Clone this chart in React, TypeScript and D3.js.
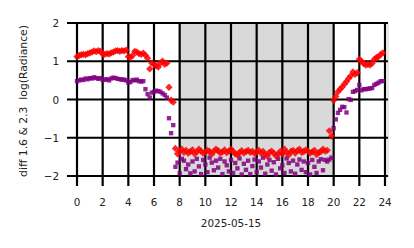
import React from "react";
import * as d3 from "d3";

const hours = [0, 2, 4, 6, 8, 10, 12, 14, 16, 18, 20, 22, 24];
const yTicks = [-2, -1, 0, 1, 2];
const yTickLabels = ["−2", "−1", "0", "1", "2"];
const nightStart = 8;
const nightEnd = 20;
const dateLabel = "2025-05-15";
const yLabel = "diff 1.6 & 2.3  log(Radiance)";

// samples every 10 minutes
const red = [
  1.12, 1.15, 1.17, 1.18, 1.17, 1.2,
  1.22, 1.24, 1.27, 1.25, 1.28, 1.26,
  1.19, 1.18, 1.2, 1.19, 1.22, 1.24,
  1.27, 1.28, 1.26, 1.28, 1.27, 1.29,
  1.12, 1.1, 1.15, 1.26, 1.24, 1.2,
  1.18, 1.21, 1.16, 1.08, 0.8, 0.95,
  0.92, 0.88, 0.85, 0.96, 1.0, 0.92,
  0.95, 0.32, -0.02, -0.07, -1.28, -1.42,
  -1.35, -1.3, -1.38, -1.33, -1.4, -1.36,
  -1.32, -1.42, -1.37, -1.3, -1.35, -1.4,
  -1.38, -1.33, -1.36, -1.43, -1.35, -1.3,
  -1.34, -1.4, -1.37, -1.32, -1.39, -1.35,
  -1.3, -1.36, -1.42, -1.45, -1.38, -1.34,
  -1.4, -1.36, -1.33, -1.38, -1.35, -1.41,
  -1.37, -1.33, -1.4, -1.36, -1.44, -1.48,
  -1.38, -1.35, -1.4, -1.47, -1.43, -1.36,
  -1.42, -1.3, -1.38, -1.45, -1.36, -1.33,
  -1.4, -1.34, -1.3, -1.38, -1.36, -1.32,
  -1.35, -1.4, -1.37, -1.33, -1.44, -1.39,
  -1.36, -1.3, -1.35, -1.33, -0.82, -0.96,
  -0.02, 0.08, 0.2, 0.27, 0.33, 0.4,
  0.47, 0.55, 0.62, 0.72, 0.66, 0.7,
  1.05, 1.0, 0.94, 0.9, 0.92, 0.9,
  0.95, 1.05, 1.1, 1.12, 1.18, 1.22,
];

const purple = [
  0.48, 0.5, 0.52, 0.51, 0.55, 0.53,
  0.56, 0.55, 0.58, 0.56, 0.54, 0.56,
  0.51, 0.52, 0.53, 0.5, 0.55, 0.57,
  0.56, 0.54, 0.53, 0.52, 0.52, 0.5,
  0.44, 0.46, 0.51, 0.5, 0.52, 0.48,
  0.47, 0.48, 0.27, 0.14, 0.05, 0.18,
  0.2, 0.23, 0.22, 0.2, 0.16, 0.12,
  0.05, -0.49, -0.88, -0.67, -1.76, -1.65,
  -1.93, -1.55, -1.6, -1.82, -1.7, -1.93,
  -1.62, -1.88, -1.55, -1.75, -1.95, -1.58,
  -1.7, -1.9, -1.52, -1.65, -1.85, -1.6,
  -1.78, -1.55, -1.95, -1.62, -1.72, -1.88,
  -1.58, -1.92, -1.66, -1.8, -1.54, -1.96,
  -1.68, -1.84, -1.6, -1.95, -1.74, -1.57,
  -1.9, -1.62, -1.78, -1.52, -1.94, -1.7,
  -1.58, -1.86, -1.64, -1.96, -1.55, -1.8,
  -1.72, -1.92, -1.54, -1.66, -1.88, -1.6,
  -1.94, -1.7, -1.57, -1.84, -1.62, -1.9,
  -1.66, -1.96, -1.58, -1.76, -1.92, -1.62,
  -1.56, -1.85, -1.58, -1.62, -1.57, -1.52,
  -0.75, -0.52, -0.35, -0.27, -0.19, -0.2,
  -0.34, 0.01, -0.01, 0.2, 0.22, 0.25,
  0.38, 0.24, 0.27, 0.27, 0.28, 0.29,
  0.3, 0.38, 0.41, 0.44, 0.48, 0.48,
];

const W = 414;
const H = 248;
const font = "DejaVu Sans, sans-serif";

export default function App() {
  const x = d3.scaleLinear().domain([0, 24]).range([77, 385]);
  const y = d3.scaleLinear().domain([-2, 2]).range([176, 23]);
  const times = red.map((_, i) => i / 6);
  const left = 67;
  const right = 388;
  const top = y(2);
  const bottom = 177;
  const diamond = d3.symbol().type(d3.symbolDiamond2).size(34)();
  const square = d3.symbol().type(d3.symbolSquare).size(19)();

  return (
    <svg width={W} height={H} style={{ position: "absolute", left: 0, top: 0 }}>
      <defs>
        <clipPath id="plotclip">
          <rect x={left} y={top} width={right - left} height={bottom - top} />
        </clipPath>
      </defs>
      <rect width={W} height={H} fill="white" />
      <rect
        x={x(nightStart)}
        y={top}
        width={x(nightEnd) - x(nightStart)}
        height={bottom - top}
        fill="#d9d9d9"
      />
      <line x1={right} x2={right} y1={top} y2={bottom} stroke="#cfcfcf" strokeWidth={1} />
      {yTicks.map((t) => (
        <line key={"hy" + t} x1={left} x2={right} y1={y(t)} y2={y(t)} stroke="black" strokeWidth={2.2} />
      ))}
      {hours.map((h) => (
        <line key={"vx" + h} x1={x(h)} x2={x(h)} y1={top - 1} y2={186} stroke="black" strokeWidth={2.2} />
      ))}
      <g clipPath="url(#plotclip)">
        {purple.map((v, i) => (
          <path
            key={"p" + i}
            d={square}
            transform={`translate(${x(times[i])},${y(v)})`}
            fill="#800080"
            fillOpacity={0.85}
          />
        ))}
        {red.map((v, i) => (
          <path
            key={"r" + i}
            d={diamond}
            transform={`translate(${x(times[i])},${y(v)})`}
            fill="#ff0000"
            fillOpacity={0.85}
          />
        ))}
      </g>
      {yTicks.map((t, i) => (
        <text
          key={"yl" + t}
          x={59}
          y={y(t)}
          textAnchor="end"
          dominantBaseline="central"
          fontFamily={font}
          fontSize={10.4}
          fill="#222"
        >
          {yTickLabels[i]}
        </text>
      ))}
      {hours.map((h) => (
        <text
          key={"xl" + h}
          x={x(h)}
          y={202}
          textAnchor="middle"
          dominantBaseline="central"
          fontFamily={font}
          fontSize={10.4}
          fill="#222"
        >
          {h}
        </text>
      ))}
      <text
        x={(x(0) + x(24)) / 2}
        y={223}
        textAnchor="middle"
        dominantBaseline="central"
        fontFamily={font}
        fontSize={10.4}
        fill="#222"
      >
        {dateLabel}
      </text>
      <text
        transform={`translate(23,${(top + bottom) / 2 + 1}) rotate(-90)`}
        textAnchor="middle"
        dominantBaseline="central"
        fontFamily={font}
        fontSize={10.8}
        fill="#222"
        style={{ whiteSpace: "pre" }}
      >
        {yLabel}
      </text>
    </svg>
  );
}
